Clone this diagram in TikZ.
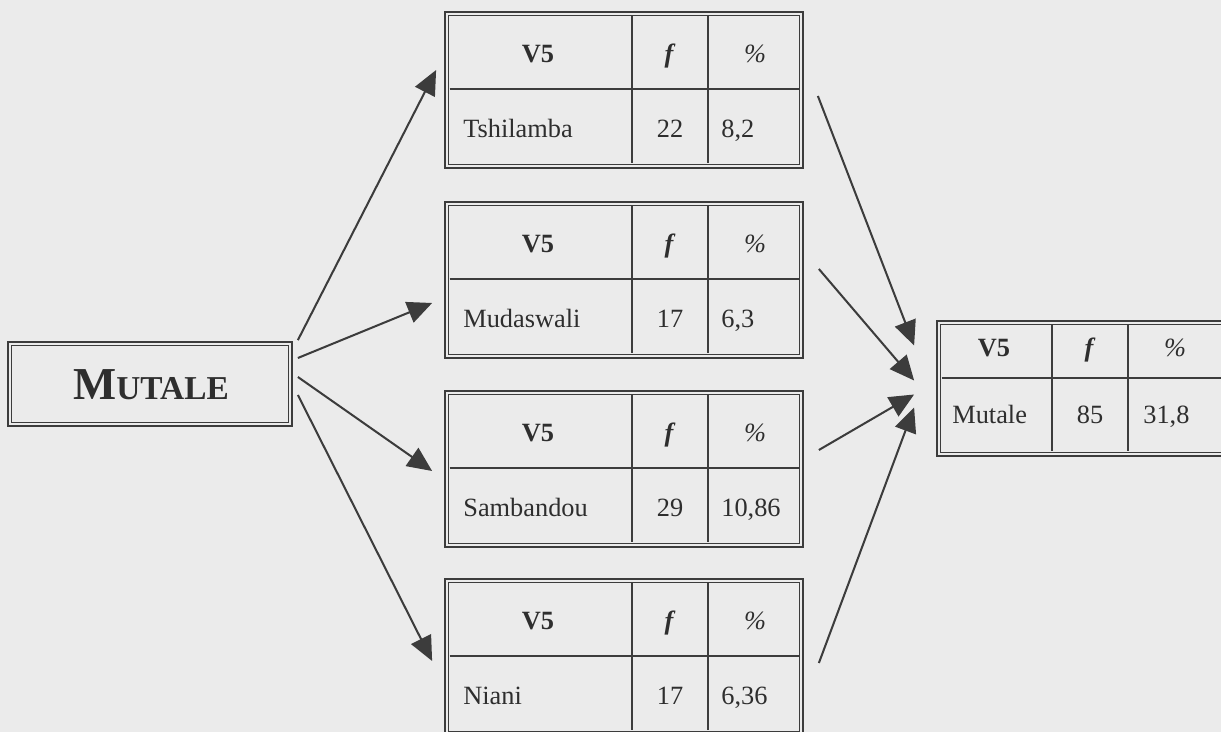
\documentclass[tikz,border=0pt]{standalone}
\usepackage{fontspec}
\setmainfont{Liberation Serif}
\usetikzlibrary{arrows.meta,calc,fit}
\definecolor{bg}{HTML}{EBEBEB}
\definecolor{ink}{HTML}{3C3C3C}
\definecolor{txt}{HTML}{2E2E2E}
\tikzset{
  frame/.style={draw=ink, line width=1.0pt, inner sep=0pt},
  innerline/.style={draw=ink, line width=0.7pt},
  gridline/.style={draw=ink, line width=0.8pt},
  cell/.style={text=txt, font=\fontsize{15}{18}\selectfont, inner sep=0pt, anchor=base},
  lcell/.style={cell, anchor=base west},
  arr/.style={draw=ink, line width=1.15pt, -{Triangle[length=14pt,width=12.5pt]}},
}
\newcommand\lefttable[5]{%
  \node[frame, fit={(445,#2) (803,{#2+156})}] (#1) {};
  \draw[innerline] ([shift={(4.5,4.5)}]#1.north west) rectangle ([shift={(-4.5,-4.5)}]#1.south east);
  \draw[gridline] (632,{#2+4.5}) -- (632,{#2+151.5});
  \draw[gridline] (708,{#2+4.5}) -- (708,{#2+151.5});
  \draw[gridline] (449.5,{#2+77}) -- (798.5,{#2+77});
  \node[cell] (#1h1) at (538,{#2+51}) {\textbf{V5}};
  \node[cell] (#1h2) at (670,{#2+51}) {\textbf{\textit{f}}};
  \node[cell] (#1h3) at (755,{#2+51}) {\textit{\%}};
  \node[lcell] (#1a) at (463,{#2+126}) {#3};
  \node[cell] (#1b) at (670,{#2+126}) {#4};
  \node[lcell] (#1c) at (721,{#2+126}) {#5};
}
\begin{document}
\begin{tikzpicture}[x=0.02cm,y=-0.02cm]
\fill[bg] (0,0) rectangle (1221,732);
\useasboundingbox (0,0) rectangle (1221,732);

% source box
\node[frame, fit={(8,342) (292,426)}] (mutale) {};
\draw[innerline] ([shift={(4.5,4.5)}]mutale.north west) rectangle ([shift={(-4.5,-4.5)}]mutale.south east);
\node[text=txt, font=\bfseries] (mutaletxt) at (151,385)
  {{\fontsize{26}{30}\selectfont M}{\fontsize{19}{22}\selectfont UTALE}};

% left tables
\lefttable{ta}{12}{Tshilamba}{22}{8,2}
\lefttable{tb}{202}{Mudaswali}{17}{6,3}
\lefttable{tc}{391}{Sambandou}{29}{10,86}
\lefttable{td}{579}{Niani}{17}{6,36}

% result table
\node[frame, fit={(937,321) (1226,456)}] (tr) {};
\draw[innerline] ([shift={(4.5,4.5)}]tr.north west) rectangle ([shift={(-4.5,-4.5)}]tr.south east);
\draw[gridline] (1052,325.5) -- (1052,451.5);
\draw[gridline] (1128,325.5) -- (1128,451.5);
\draw[gridline] (941.5,378) -- (1221,378);
\node[cell] (trh1) at (994,357) {\textbf{V5}};
\node[cell] (trh2) at (1090,357) {\textbf{\textit{f}}};
\node[cell] (trh3) at (1175,357) {\textit{\%}};
\node[lcell] (tra) at (952,424) {Mutale};
\node[cell] (trb) at (1090,424) {85};
\node[lcell] (trc) at (1143,424) {31,8};

% arrows from source
\draw[arr] ($(mutale.north east)+(5,-1)$) -- ($(ta.west)+(-8,-20)$);
\draw[arr] ($(mutale.east)+(5,-26)$) -- ($(tb.west)+(-12,23)$);
\draw[arr] ($(mutale.east)+(5,-7)$) -- ($(tc.west)+(-12,2)$);
\draw[arr] ($(mutale.east)+(5,11)$) -- ($(td.west)+(-12,4)$);

% arrows to result
\draw[arr] ($(ta.east)+(14,6)$) -- ($(tr.west)+(-22,-43)$);
\draw[arr] ($(tb.east)+(15,-11)$) -- ($(tr.west)+(-22,-8)$);
\draw[arr] ($(tc.east)+(15,-19)$) -- ($(tr.west)+(-22,6)$);
\draw[arr] ($(td.east)+(15,6)$) -- ($(tr.west)+(-22,19)$);
\end{tikzpicture}
\end{document}
